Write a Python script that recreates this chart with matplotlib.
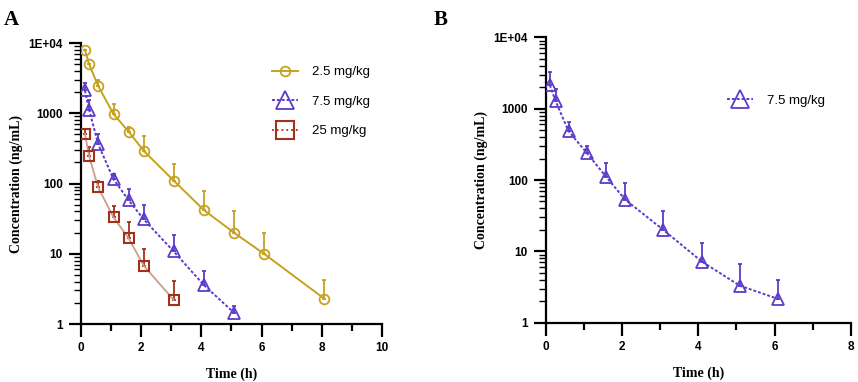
import numpy as np
import matplotlib
matplotlib.use("Agg")
from matplotlib import pyplot as plt
from matplotlib.ticker import FixedLocator, FixedFormatter, LogLocator, NullFormatter

# Panel A: three doses
time_25 = [0.13, 0.27, 0.57, 1.08, 1.58, 2.08, 3.08, 4.08, 5.08, 6.08, 8.08]
conc_25 = [8050, 4980, 2450, 975, 550, 293, 110, 42, 20, 10, 2.3]
sd_25 = [0, 0, 500, 375, 90, 177, 80, 36, 20, 10, 1.9]

time_75 = [0.13, 0.27, 0.57, 1.08, 1.58, 2.08, 3.08, 4.08, 5.08]
conc_75 = [2120, 1130, 365, 115, 58, 31, 10.8, 3.6, 1.45]
sd_75 = [580, 390, 135, 22, 26, 18, 7.9, 2.0, 0.35]

time_250 = [0.13, 0.27, 0.57, 1.08, 1.58, 2.08, 3.08]
conc_250 = [510, 245, 88, 33, 16.7, 6.8, 2.2]
sd_250 = [90, 85, 20, 15, 11.3, 4.7, 1.9]

# Panel B: 7.5 mg/kg
time_b = [0.1, 0.25, 0.59, 1.07, 1.57, 2.08, 3.08, 4.09, 5.09, 6.1]
conc_b = [2140, 1280, 485, 240, 112, 53, 20, 7.2, 3.3, 2.15]
sd_b = [1160, 590, 175, 60, 63, 37, 17, 5.8, 3.4, 1.85]

y_ticks = [1, 10, 100, 1000, 10000]
y_labels = ["1", "10", "100", "1000", "1E+04"]

GOLD = "#C6A21E"
PURPLE = "#5B3CC8"
RED = "#A5301A"
BROWN = "#C9A08E"

plt.rcParams["font.family"] = ["Liberation Sans", "DejaVu Sans"]
SERIF = ["Liberation Serif", "DejaVu Serif"]

fig = plt.figure(figsize=(8.58, 3.82), dpi=100)
ax_a = fig.add_axes([0.0944, 0.1518, 0.3508, 0.7356])
ax_b = fig.add_axes([0.6364, 0.1552, 0.3551, 0.7471])


def style_axis(ax, xmax):
    ax.set_yscale("log")
    ax.set_ylim(1, 10000)
    ax.set_xlim(0, xmax)
    for side in ["top", "right"]:
        ax.spines[side].set_visible(False)
    for side in ["left", "bottom"]:
        ax.spines[side].set_linewidth(1.6)
    ax.yaxis.set_major_locator(FixedLocator(y_ticks))
    ax.yaxis.set_major_formatter(FixedFormatter(y_labels))
    ax.yaxis.set_minor_locator(LogLocator(base=10, subs=np.arange(2, 10), numticks=20))
    ax.yaxis.set_minor_formatter(NullFormatter())
    ax.set_xticks(np.arange(0, xmax + 1, 2))
    ax.set_xticks(np.arange(1, xmax, 2), minor=True)
    ax.tick_params(axis="both", which="major", direction="out", length=9, width=1.6,
                   labelsize=8.5, pad=4)
    ax.tick_params(axis="y", which="minor", direction="out", length=5, width=1.0)
    ax.tick_params(axis="x", which="minor", direction="out", length=5, width=1.6)
    for lab in ax.get_xticklabels() + ax.get_yticklabels():
        lab.set_fontweight("bold")
    ax.set_xlabel("Time (h)", family=SERIF, fontweight="bold", fontsize=10, labelpad=10)
    ax.set_ylabel("Concentration (ng/mL)", family=SERIF, fontweight="bold", fontsize=10,
                  labelpad=4)


def upper_err(ax, t, c, sd, color):
    ax.errorbar(t, c, yerr=[np.zeros(len(sd)), sd], fmt="none", ecolor=color,
                elinewidth=1.3, capsize=1.5, capthick=1.3, zorder=2)


# Panel A
upper_err(ax_a, time_25, conc_25, sd_25, GOLD)
upper_err(ax_a, time_75, conc_75, sd_75, PURPLE)
upper_err(ax_a, time_250, conc_250, sd_250, RED)
ax_a.plot(time_25, conc_25, color=GOLD, lw=1.4, marker="o", ms=7, mfc="none",
          mec=GOLD, mew=1.3, label="2.5 mg/kg", zorder=3)
ax_a.plot(time_75, conc_75, color=PURPLE, lw=1.4, ls=(0, (1.5, 1)), marker="^", ms=8,
          mfc="none", mec=PURPLE, mew=1.3, label="7.5 mg/kg", zorder=3)
ax_a.plot(time_250, conc_250, color=BROWN, lw=1.3, marker="s", ms=7, mfc="none",
          mec=RED, mew=1.5, label="25 mg/kg", zorder=3)
style_axis(ax_a, 10)

leg = ax_a.legend(loc="upper left", bbox_to_anchor=(0.595, 0.96), frameon=False,
                  fontsize=9.5, handlelength=2.0, labelspacing=1.3, handletextpad=1.0)
handles = leg.legend_handles
handles[0].set_markersize(7)
handles[1].set_markersize(13)
handles[2].set_markersize(13)
handles[2].set_color(RED)
handles[2].set_linestyle(":")

# Panel B
upper_err(ax_b, time_b, conc_b, sd_b, PURPLE)
ax_b.plot(time_b, conc_b, color=PURPLE, lw=1.4, ls=(0, (1.5, 1)), marker="^", ms=8,
          mfc="none", mec=PURPLE, mew=1.3, label="7.5 mg/kg", zorder=3)
style_axis(ax_b, 8)
leg_b = ax_b.legend(loc="upper left", bbox_to_anchor=(0.555, 0.84), frameon=False,
                    fontsize=9.5, handlelength=2.0, handletextpad=1.0)
leg_b.legend_handles[0].set_markersize(13)

fig.text(0.005, 0.975, "A", family=SERIF, fontweight="bold", fontsize=15, va="top")
fig.text(0.505, 0.975, "B", family=SERIF, fontweight="bold", fontsize=15, va="top")

fig.savefig("out.png", dpi=100)
